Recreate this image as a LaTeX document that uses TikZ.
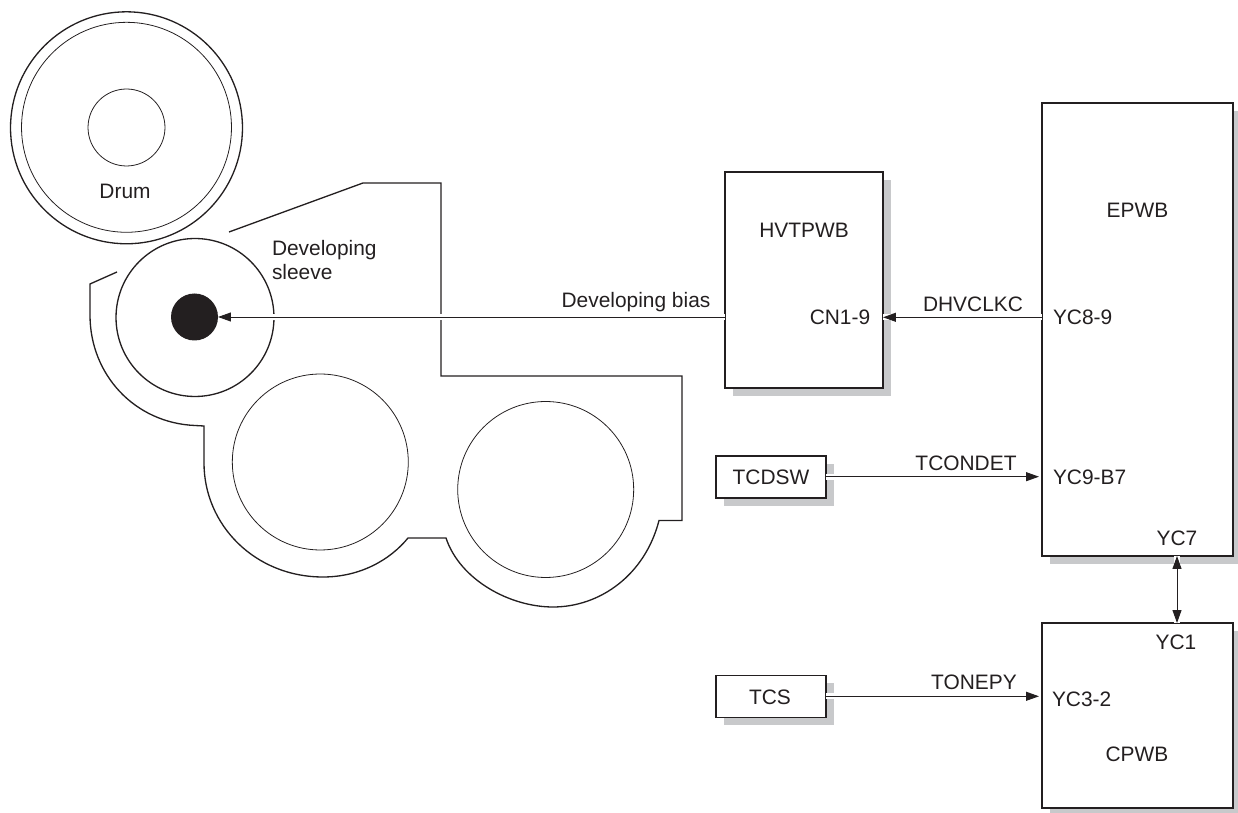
\documentclass[tikz,border=0pt]{standalone}
\usepackage{fontspec}
\setmainfont{Liberation Sans}
\usepackage{xcolor}
\usepackage{tikz}
\usetikzlibrary{arrows.meta,shadows}

\definecolor{inkblack}{HTML}{231F20}
\definecolor{shadegray}{HTML}{C8C9CB}

\tikzset{
  lbl/.style={inner sep=0pt, outer sep=0pt, text=inkblack, font=\fontsize{11.9}{13.6}\selectfont},
  unitbox/.style={draw=inkblack, line width=0.75pt, fill=white, rectangle, inner sep=0pt, outer sep=0pt,
    drop shadow={shadow xshift=0.16cm, shadow yshift=-0.16cm, fill=shadegray, opacity=1}},
  roller/.style={draw=inkblack, line width=0.45pt, circle, inner sep=0pt, outer sep=0pt},
  casing/.style={draw=inkblack, line width=0.75pt, line join=miter},
  sig/.style={draw=inkblack, line width=0.55pt, -{Stealth[length=0.26cm,width=0.18cm,inset=0pt]},
    preaction={draw=white, line width=3.5pt, -}},
  sigboth/.style={sig, {Stealth[length=0.26cm,width=0.18cm,inset=0pt]}-{Stealth[length=0.26cm,width=0.18cm,inset=0pt]}},
}

\begin{document}
\begin{tikzpicture}[x=0.02cm, y=-0.02cm]
\useasboundingbox (0,0) rectangle (1238,813);

% drum
\node[roller, line width=0.75pt, minimum size=4.64cm] (drumouter) at (126.5,127.8) {};
\node[roller, minimum size=4.20cm] (druminner) at (126.5,127.3) {};
\node[roller, minimum size=1.54cm] (drumcore) at (126.5,127.5) {};
\node[lbl] (drumlbl) at (125,191) {Drum};

% developer housing
\draw[casing] (229,232) -- (363,183) -- (441,183) -- (441,376) -- (682,376) -- (682,520.5) -- (659,520.5)
  .. controls (645,575) and (600,607) .. (553,607)
  .. controls (510,607) and (460,580) .. (446,538) -- (408,538)
  .. controls (390,560) and (360,577) .. (323,577)
  .. controls (255,577) and (204,525) .. (204,463) -- (204,426) -- (195,425.5)
  .. controls (135,423) and (90,375) .. (90,315) -- (90,284) -- (117,272);

% rollers
\node[roller, line width=0.75pt, minimum size=3.16cm] (sleeve) at (195,317.5) {};
\node[circle, fill=inkblack, inner sep=0pt, outer sep=0pt, minimum size=0.94cm] (shaft) at (194.5,317) {};
\node[roller, minimum size=3.52cm] (screwa) at (320.3,462) {};
\node[roller, minimum size=3.52cm] (screwb) at (545.7,489.5) {};
\node[lbl, align=left, anchor=west] (sleevelbl) at (272,260) {Developing\\sleeve};

% boards
\node[unitbox, minimum width=3.16cm, minimum height=4.32cm] (hvtpwb) at (804,280) {};
\node[unitbox, minimum width=3.82cm, minimum height=9.06cm] (epwb) at (1137.5,329.5) {};
\node[unitbox, minimum width=3.82cm, minimum height=3.70cm] (cpwb) at (1137.5,715.5) {};
\node[unitbox, minimum width=2.20cm, minimum height=0.84cm] (tcdsw) at (771,477) {};
\node[unitbox, minimum width=2.20cm, minimum height=0.84cm] (tcs) at (771,696.3) {};

\node[lbl] (hvtlbl) at (804,230) {HVTPWB};
\node[lbl] (cn19) at (840,317) {CN1-9};
\node[lbl] (epwblbl) at (1137.5,210) {EPWB};
\node[lbl, anchor=west] (yc89) at (1053,317.3) {YC8-9};
\node[lbl, anchor=west] (yc9b7) at (1053,477) {YC9-B7};
\node[lbl] (yc7) at (1177,538) {YC7};
\node[lbl] (yc1) at (1176,642.5) {YC1};
\node[lbl, anchor=west] (yc32) at (1052,699) {YC3-2};
\node[lbl] (cpwblbl) at (1137,754) {CPWB};
\node[lbl] (tcdswlbl) at (tcdsw) {TCDSW};
\node[lbl] (tcslbl) at (770,697) {TCS};

% signals
\coordinate (tcdswout) at (826,476.7);
\coordinate (tcsout) at (826,696.3);
\draw[sig] (hvtpwb.west |- shaft) -- (shaft);
\draw[sig] (epwb.west |- yc89) -- (hvtpwb.east |- yc89);
\draw[sig, shorten >=0.06cm] (tcdswout) -- (epwb.west |- tcdswout);
\draw[sig, shorten >=0.06cm] (tcsout) -- (cpwb.west |- tcsout);
\draw[sigboth] (yc7 |- epwb.south) -- (yc7 |- cpwb.north);

\node[lbl] (biaslbl) at (636,302) {Developing bias};
\node[lbl] (dhvlbl) at (973,304) {DHVCLKC};
\node[lbl] (tcondetlbl) at (966,463) {TCONDET};
\node[lbl] (tonepylbl) at (974,682.5) {TONEPY};
\end{tikzpicture}
\end{document}
